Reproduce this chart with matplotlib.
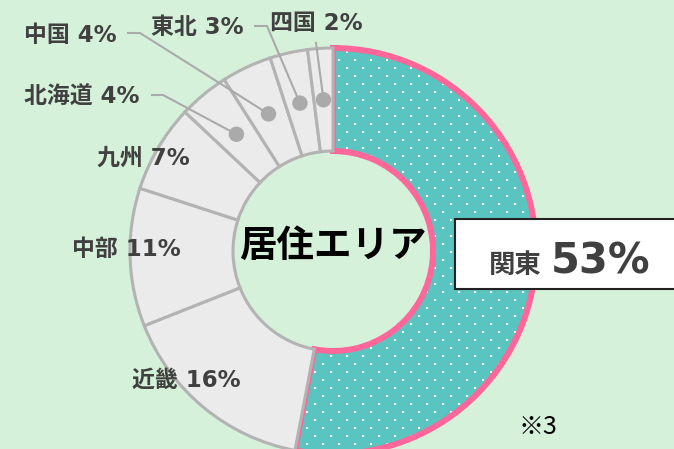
import numpy as np
import matplotlib.pyplot as plt
from matplotlib.patches import Wedge, Rectangle, Circle

plt.rcParams['font.family'] = ['Noto Sans CJK JP', 'DejaVu Sans']
label_font = ['DejaVu Sans', 'Noto Sans CJK JP']

# data
regions = ['関東', '近畿', '中部', '九州', '北海道', '中国', '東北', '四国']
shares = [53, 16, 11, 7, 4, 4, 3, 2]

W, H = 674, 449
bg = '#d6f1da'
teal = '#5ac5c0'
pink = '#ff6699'
grey_fill = '#ebebeb'
grey_edge = '#b3b3b3'
txt = '#404040'

def px(x, y):
    # pixel coords (y down) -> data coords (y up)
    return x, H - y

fig = plt.figure(figsize=(6.74, 4.49), dpi=100)
fig.patch.set_facecolor(bg)
ax = fig.add_axes([0, 0, 1, 1])
ax.set_facecolor(bg)

cx, cy = px(333, 251)
r_out, r_in = 203, 100

colors = [teal] + [grey_fill] * (len(shares) - 1)
wedges, _ = ax.pie(shares, colors=colors, startangle=90, counterclock=False,
                   center=(cx, cy), radius=r_out, frame=True,
                   wedgeprops=dict(width=r_out - r_in, edgecolor=grey_edge, linewidth=2.2))
wedges[0].set_edgecolor('none')
wedges[0].set_zorder(1)
for w in wedges[1:]:
    w.set_zorder(3)

# dotted texture inside the Kanto wedge
xs = np.arange(235, 600, 16)
ys = np.arange(4, 470, 8)
dx, dy = [], []
for j, yy in enumerate(ys):
    shift = 0 if j % 2 == 0 else 8
    for xx in xs:
        dx.append(xx + shift)
        dy.append(H - yy)
dots = ax.scatter(dx, dy, s=2.3, marker='s', color='white', linewidths=0, zorder=1.5)
dots.set_clip_path(wedges[0])

# pink outline of Kanto
k = wedges[0]
ax.add_patch(Wedge(k.center, k.r, k.theta1, k.theta2, width=k.width,
                   fill=False, edgecolor=pink, linewidth=4.3, zorder=2))

# center title
ax.text(*px(333, 245), '居住エリア', ha='center', va='center', fontsize=27,
        fontweight='bold', color='black', zorder=5)

# Kanto label box
ax.add_patch(Rectangle(px(455, 289), 240, 70, facecolor='white', edgecolor='#222222',
                       linewidth=1.5, zorder=6))
ax.text(*px(489, 273), regions[0], ha='left', va='baseline', fontsize=19,
        fontweight='bold', color=txt, zorder=7)
ax.text(*px(551, 273), f'{shares[0]}%', ha='left', va='baseline', fontsize=30,
        fontweight='bold', color=txt, family=label_font, zorder=7)

# outer labels (pixel centers)
label_pos = {
    '近畿': (186, 380),
    '中部': (126, 250),
    '九州': (143, 158),
    '北海道': (82, 97),
    '中国': (70, 35),
    '東北': (197, 28),
    '四国': (316, 23),
}
# leader line start points for small slices
leader_start = {
    '北海道': [(152, 95), (163, 95)],
    '中国': [(128, 33), (140, 33)],
    '東北': [(255, 26), (267, 26)],
    '四国': [(316, 43)],
}

r_mid = (r_out + r_in) / 2
for name, val, w in zip(regions[1:], shares[1:], wedges[1:]):
    x, y = label_pos[name]
    ax.text(*px(x, y), f'{name} {val}%', ha='center', va='center', fontsize=16.5,
            fontweight='bold', color=txt, family=label_font, zorder=5)
    if name in leader_start:
        ang = np.deg2rad((w.theta1 + w.theta2) / 2)
        mx = cx + r_mid * np.cos(ang)
        my = cy + r_mid * np.sin(ang)
        pts = [px(a, b) for a, b in leader_start[name]] + [(mx, my)]
        ax.plot([p[0] for p in pts], [p[1] for p in pts], color='#aaaaaa',
                linewidth=1.5, zorder=4)
        ax.add_patch(Circle((mx, my), 7, color='#aaaaaa', zorder=4))

ax.text(*px(519, 427), '※3', ha='left', va='center', fontsize=18, color='black', zorder=5)

ax.set_xlim(0, W)
ax.set_ylim(0, H)
ax.set_aspect('equal')
ax.axis('off')

fig.savefig('out.png', dpi=100, facecolor=bg)
